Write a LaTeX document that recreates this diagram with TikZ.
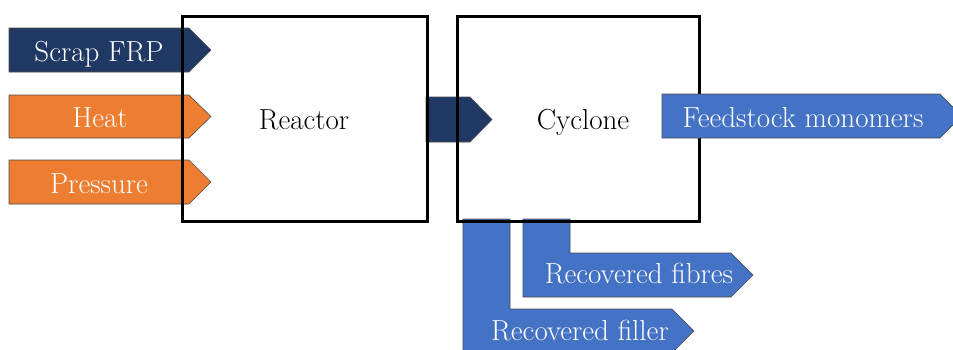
\documentclass[tikz,border=0pt]{standalone}
\usepackage{tikz}
\usetikzlibrary{positioning}

\definecolor{navy}{HTML}{203864}
\definecolor{heatorange}{HTML}{ED7D31}
\definecolor{outblue}{HTML}{4472C4}

\begin{document}
\begin{tikzpicture}[x=1pt, y=-1pt]
\tikzset{
  flow/.style={draw=black!70, line width=0.6pt},
  unit/.style={draw=black, line width=3pt},
  lbl/.style={text=white, anchor=base, inner sep=0pt, font=\fontsize{29}{34}\selectfont},
  unitlbl/.style={text=black, anchor=base, inner sep=0pt, font=\fontsize{29}{34}\selectfont}
}
\useasboundingbox (0,0) rectangle (953,349);

% inputs
\draw[flow, fill=navy] (9,28) -- (189,28) -- (211,50) -- (189,72) -- (9,72) -- cycle;
\draw[flow, fill=heatorange] (9,95) -- (189,95) -- (211,116.5) -- (189,138) -- (9,138) -- cycle;
\draw[flow, fill=heatorange] (9,160) -- (189,160) -- (211,182) -- (189,204) -- (9,204) -- cycle;

% reactor to cyclone
\draw[flow, fill=navy] (426,97) -- (470,97) -- (492,119.5) -- (470,142) -- (426,142) -- cycle;

% solid outputs
\draw[flow, fill=outblue] (463,219) -- (510,219) -- (510,309) -- (672,309) -- (694,331)
  -- (672,353) -- (463,353) -- cycle;
\draw[flow, fill=outblue] (523,219) -- (570,219) -- (570,253) -- (731,253) -- (753,275)
  -- (731,297) -- (523,297) -- cycle;

% units
\draw[unit] (182,16) rectangle (427,221);
\draw[unit] (457,16) rectangle (699,221);

% gas output, over the cyclone wall
\draw[flow, fill=outblue] (662,94) -- (940,94) -- (962,116) -- (940,138) -- (662,138) -- cycle;

\node[lbl] (scrap) at (99,61) {Scrap FRP};
\node[lbl] (heat) at (100,127) {Heat};
\node[lbl] (press) at (99,193) {Pressure};
\node[unitlbl] (reactor) at (304,129) {Reactor};
\node[unitlbl] (cyclone) at (583,129) {Cyclone};
\node[lbl] (monomers) at (803,127) {Feedstock monomers};
\node[lbl] (fibres) at (639,283) {Recovered fibres};
\node[lbl] (filler) at (580,340) {Recovered filler};
\end{tikzpicture}
\end{document}
